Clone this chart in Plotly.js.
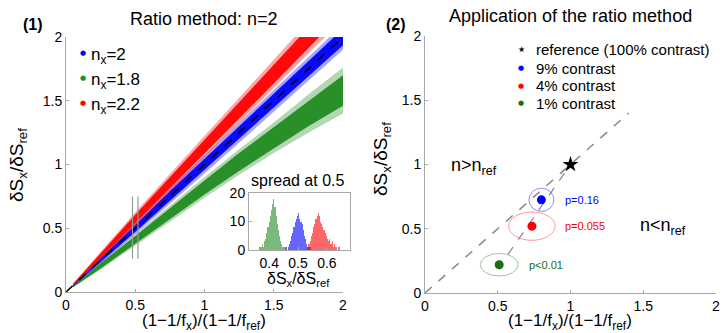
<!DOCTYPE html>
<html>
<head>
<meta charset="utf-8">
<script src="https://cdn.plot.ly/plotly-3.0.1.min.js"></script>
<style>html,body{margin:0;padding:0;background:#fff;}#chart{width:728px;height:333px;}</style>
</head>
<body>
<div id="chart"></div>
<script>
// ---------- Panel (1): scatter clouds, read as envelopes ----------
const bandX = [0.05, 0.25, 0.5, 0.75, 1.0, 1.25, 1.5, 1.75, 2.0];
// n_x = 2 (blue)
const blueCoreLo  = [0.046, 0.235, 0.47, 0.71, 0.955, 1.2, 1.445, 1.69, 1.935];
const blueCoreHi  = [0.054, 0.265, 0.53, 0.79, 1.045, 1.3, 1.555, 1.81, 2.065];
const blueOuterLo = [0.042, 0.225, 0.455, 0.69, 0.93, 1.17, 1.41, 1.655, 1.9];
const blueOuterHi = [0.058, 0.275, 0.545, 0.81, 1.07, 1.33, 1.59, 1.845, 2.1];
// n_x = 2.2 (red)
const redCoreLo  = [0.052, 0.265, 0.535, 0.81, 1.085, 1.36, 1.635, 1.91, 2.19];
const redCoreHi  = [0.062, 0.305, 0.605, 0.9, 1.195, 1.49, 1.785, 2.08, 2.37];
const redOuterLo = [0.048, 0.255, 0.515, 0.785, 1.055, 1.325, 1.595, 1.87, 2.14];
const redOuterHi = [0.066, 0.315, 0.625, 0.925, 1.225, 1.525, 1.825, 2.12, 2.42];
// n_x = 1.8 (green)
const greenCoreLo  = [0.038, 0.185, 0.38, 0.57, 0.765, 0.95, 1.125, 1.3, 1.46];
const greenCoreHi  = [0.046, 0.225, 0.44, 0.66, 0.875, 1.09, 1.295, 1.5, 1.7];
const greenOuterLo = [0.035, 0.175, 0.365, 0.55, 0.74, 0.92, 1.09, 1.25, 1.4];
const greenOuterHi = [0.049, 0.235, 0.455, 0.68, 0.9, 1.12, 1.33, 1.55, 1.76];

const identityLine = [0, 2];
const spreadLineX = [0.48, 0.52];
const spreadLineY = [0.26, 0.75];

const legend1Labels = ['n<sub>x</sub>=2', 'n<sub>x</sub>=1.8', 'n<sub>x</sub>=2.2'];
const legend1Colors = ['#0000ff', '#228b22', '#ff0000'];

// ---------- Inset: histograms of spread at 0.5 ----------
const binWidth = 0.004;
const greenBinStart = 0.366;
const greenCounts = [1, 1, 2, 1, 3, 4, 6, 8, 10, 12, 14, 16, 18, 15, 12, 9, 7, 5, 3, 2, 1, 1];
const blueBinStart = 0.456;
const blueCounts = [1, 0, 1, 2, 3, 5, 6, 8, 10, 11, 12, 13, 11, 10, 9, 7, 5, 4, 2, 1, 1, 1];
const redBinStart = 0.532;
const redCounts = [1, 2, 3, 5, 6, 8, 9, 11, 12, 13, 12, 10, 9, 8, 7, 6, 5, 4, 3, 4, 2, 3, 1, 2, 1, 1, 0, 1];

// ---------- Panel (2): application ----------
const contrastLabels = ['9% contrast', '4% contrast', '1% contrast'];
const contrastColors = ['#0000ff', '#ff0000', '#1a6e1a'];
const ellipseColors = ['#8c8cff', '#ff9a9a', '#96c896'];
const ptX = [0.80, 0.735, 0.51];
const ptY = [0.725, 0.52, 0.22];
const ellRX = [0.086, 0.16, 0.13];
const ellRY = [0.09, 0.11, 0.088];
const pLabels = ['p=0.16', 'p=0.055', 'p&lt;0.01'];
const pLabelX = [0.95, 0.95, 0.70];
const refX = [1.0], refY = [1.0];
const diagLine = [0, 1.4];
const fitLineX = [0.57, 1.0];
const fitLineY = [0.30, 1.0];

const FONT = 'Liberation Sans, Arial, Helvetica, sans-serif';
const W = 728, H = 333;
const px = v => v / W;
const py = v => 1 - v / H;

function band(lo, hi, color) {
  return {
    x: bandX.concat(bandX.slice().reverse()),
    y: hi.concat(lo.slice().reverse()),
    type: 'scatter', mode: 'lines', fill: 'toself', fillcolor: color,
    line: {width: 0}, hoverinfo: 'skip', showlegend: false, xaxis: 'x', yaxis: 'y'
  };
}
function bins(start, n) { const a = []; for (let i = 0; i < n; i++) a.push(start + binWidth * (i + 0.5)); return a; }

const traces = [
  band(greenOuterLo, greenOuterHi, 'rgba(34,139,34,0.35)'),
  band(greenCoreLo, greenCoreHi, 'rgba(34,139,34,0.95)'),
  band(blueOuterLo, blueOuterHi, 'rgba(0,0,255,0.35)'),
  band(blueCoreLo, blueCoreHi, 'rgba(0,0,255,0.95)'),
  band(redOuterLo, redOuterHi, 'rgba(255,0,0,0.35)'),
  band(redCoreLo, redCoreHi, 'rgba(255,0,0,0.95)'),
  {x: identityLine, y: identityLine, type: 'scatter', mode: 'lines', line: {color: '#000', width: 1.5, dash: 'dash'}, showlegend: false, hoverinfo: 'skip', xaxis: 'x', yaxis: 'y'},
  {x: [spreadLineX[0], spreadLineX[0]], y: spreadLineY, type: 'scatter', mode: 'lines', line: {color: '#999', width: 1.2}, showlegend: false, hoverinfo: 'skip', xaxis: 'x', yaxis: 'y'},
  {x: [spreadLineX[1], spreadLineX[1]], y: spreadLineY, type: 'scatter', mode: 'lines', line: {color: '#999', width: 1.2}, showlegend: false, hoverinfo: 'skip', xaxis: 'x', yaxis: 'y'},
  // inset histograms
  {x: bins(greenBinStart, greenCounts.length), y: greenCounts, type: 'bar', width: binWidth, marker: {color: 'rgba(34,139,34,0.6)', line: {width: 0}}, showlegend: false, xaxis: 'x3', yaxis: 'y3'},
  {x: bins(blueBinStart, blueCounts.length), y: blueCounts, type: 'bar', width: binWidth, marker: {color: 'rgba(0,0,255,0.6)', line: {width: 0}}, showlegend: false, xaxis: 'x3', yaxis: 'y3'},
  {x: bins(redBinStart, redCounts.length), y: redCounts, type: 'bar', width: binWidth, marker: {color: 'rgba(255,0,0,0.6)', line: {width: 0}}, showlegend: false, xaxis: 'x3', yaxis: 'y3'},
  // panel 2
  {x: diagLine, y: diagLine, type: 'scatter', mode: 'lines', line: {color: '#888', width: 1.5, dash: 'dash'}, showlegend: false, hoverinfo: 'skip', xaxis: 'x2', yaxis: 'y2'},
  {x: fitLineX, y: fitLineY, type: 'scatter', mode: 'lines', line: {color: '#888', width: 1.2, dash: 'dash'}, showlegend: false, hoverinfo: 'skip', xaxis: 'x2', yaxis: 'y2'},
  {x: ptX, y: ptY, type: 'scatter', mode: 'markers', marker: {color: contrastColors, size: 9}, showlegend: false, xaxis: 'x2', yaxis: 'y2'},
  {x: refX, y: refY, type: 'scatter', mode: 'markers', marker: {color: '#000', size: 12, symbol: 'star'}, showlegend: false, xaxis: 'x2', yaxis: 'y2'}
];

const shapes = ptX.map((cx, i) => ({
  type: 'circle', xref: 'x2', yref: 'y2', layer: 'below',
  x0: cx - ellRX[i], x1: cx + ellRX[i], y0: ptY[i] - ellRY[i], y1: ptY[i] + ellRY[i],
  line: {color: ellipseColors[i], width: 1}
}));

const annotations = [];
function txt(text, x, y, opts) {
  annotations.push(Object.assign({text: text, x: x, y: y, xref: 'paper', yref: 'paper', showarrow: false,
    xanchor: 'center', yanchor: 'middle', font: {family: FONT, size: 14, color: '#000'}}, opts || {}));
}
// titles
txt('Ratio method: n=2', px(204), py(19), {font: {family: FONT, size: 18, color: '#000'}});
txt('Application of the ratio method', px(570), py(16), {font: {family: FONT, size: 18, color: '#000'}});
txt('<b>(1)</b>', px(33), py(25), {font: {family: FONT, size: 16, color: '#000'}});
txt('<b>(2)</b>', px(396), py(25), {font: {family: FONT, size: 16, color: '#000'}});
// axis titles
const xTitle = '(1\u22121/f<sub>x</sub>)/(1\u22121/f<sub>ref</sub>)';
const yTitle = '\u03b4S<sub>x</sub>/\u03b4S<sub>ref</sub>';
txt(xTitle, px(204), py(322), {font: {family: FONT, size: 17, color: '#000'}});
txt(xTitle, px(570), py(322), {font: {family: FONT, size: 17, color: '#000'}});
txt(yTitle, px(18), py(165), {textangle: -90, font: {family: FONT, size: 19, color: '#000'}});
txt(yTitle, px(382), py(159), {textangle: -90, font: {family: FONT, size: 19, color: '#000'}});
// inset texts
txt('spread at 0.5', px(298), py(180), {font: {family: FONT, size: 16, color: '#000'}});
txt(yTitle, px(298), py(279), {font: {family: FONT, size: 16, color: '#000'}});
// legend 1
const leg1Y = [53, 78, 103];
legend1Labels.forEach((l, i) => {
  txt('\u25cf', px(83), py(leg1Y[i]), {font: {family: 'DejaVu Sans', size: 7, color: legend1Colors[i]}});
  txt(l, px(89), py(leg1Y[i] + 3), {xanchor: 'left', font: {family: FONT, size: 17, color: '#000'}});
});
// legend 2
const leg2Y = [68, 86, 103];
txt('\u2605', px(521), py(50), {font: {family: 'DejaVu Sans', size: 8, color: '#000'}});
txt('reference (100% contrast)', px(534), py(50), {xanchor: 'left', font: {family: FONT, size: 15, color: '#000'}});
contrastLabels.forEach((l, i) => {
  txt('\u25cf', px(521), py(leg2Y[i]), {font: {family: 'DejaVu Sans', size: 7, color: contrastColors[i]}});
  txt(l, px(534), py(leg2Y[i]), {xanchor: 'left', font: {family: FONT, size: 15, color: '#000'}});
});
// region labels
txt('n&gt;n<sub>ref</sub>', px(449), py(166), {xanchor: 'left', font: {family: FONT, size: 18, color: '#000'}});
txt('n&lt;n<sub>ref</sub>', px(638), py(226), {xanchor: 'left', font: {family: FONT, size: 18, color: '#000'}});
// p labels
pLabels.forEach((l, i) => {
  annotations.push({text: l, x: pLabelX[i], y: ptY[i], xref: 'x2', yref: 'y2', showarrow: false,
    xanchor: 'left', yanchor: 'middle', font: {family: FONT, size: 11, color: contrastColors[i]}});
});

const axBase = {
  showgrid: false, zeroline: false, showline: true, linecolor: '#a8a8a8', linewidth: 1,
  ticks: 'inside', ticklen: 3, tickcolor: '#a8a8a8',
  tickfont: {family: FONT, size: 14, color: '#000'}, fixedrange: true
};

const layout = {
  width: W, height: H, margin: {l: 0, r: 0, t: 0, b: 0},
  paper_bgcolor: '#fff', plot_bgcolor: 'rgba(0,0,0,0)', showlegend: false,
  font: {family: FONT},
  xaxis: Object.assign({}, axBase, {domain: [px(66), px(343)], range: [0, 2], tickvals: [0, 0.5, 1, 1.5, 2], ticktext: ['0', '0.5', '1', '1.5', '2'], anchor: 'y'}),
  yaxis: Object.assign({}, axBase, {domain: [py(292), py(37)], range: [0, 2], tickvals: [0, 0.5, 1, 1.5, 2], ticktext: ['0', '0.5', '1', '1.5', '2'], anchor: 'x'}),
  xaxis2: Object.assign({}, axBase, {domain: [px(425), px(716)], range: [0, 2], tickvals: [0, 0.5, 1, 1.5, 2], ticktext: ['0', '0.5', '1', '1.5', '2'], anchor: 'y2'}),
  yaxis2: Object.assign({}, axBase, {domain: [py(293), py(36)], range: [0, 2], tickvals: [0, 0.5, 1, 1.5, 2], ticktext: ['0', '0.5', '1', '1.5', '2'], anchor: 'x2'}),
  xaxis3: Object.assign({}, axBase, {domain: [px(249), px(350)], range: [0.33, 0.68], tickvals: [0.4, 0.5, 0.6], mirror: true, anchor: 'y3'}),
  yaxis3: Object.assign({}, axBase, {domain: [py(250), py(193)], range: [0, 20], tickvals: [0, 10, 20], mirror: true, anchor: 'x3'}),
  barmode: 'overlay', bargap: 0,
  shapes: shapes,
  annotations: annotations
};

Plotly.newPlot('chart', traces, layout, {staticPlot: true, displayModeBar: false});
</script>
</body>
</html>
